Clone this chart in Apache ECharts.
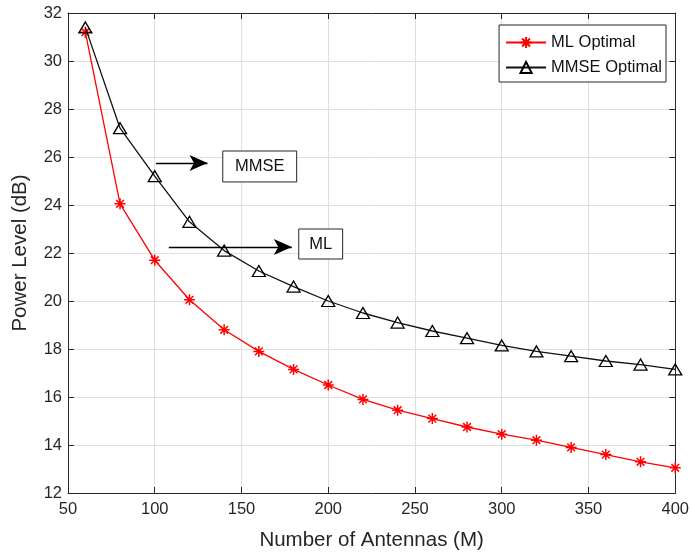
<!DOCTYPE html>
<html>
<head>
<meta charset="utf-8">
<script src="https://cdn.jsdelivr.net/npm/echarts@6/dist/echarts.min.js"></script>
<style>html,body{margin:0;padding:0;background:#fff}#c{width:692px;height:559px}</style>
</head>
<body>
<div id="c"></div>
<script>
const antennas = [60, 80, 100, 120, 140, 160, 180, 200, 220, 240, 260, 280, 300, 320, 340, 360, 380, 400];
const mlOptimal = [31.2, 24.05, 21.7, 20.05, 18.8, 17.9, 17.15, 16.5, 15.9, 15.45, 15.1, 14.75, 14.45, 14.2, 13.9, 13.6, 13.3, 13.05];
const mmseOptimal = [31.4, 27.2, 25.2, 23.3, 22.1, 21.25, 20.6, 20.0, 19.5, 19.1, 18.75, 18.45, 18.15, 17.9, 17.7, 17.5, 17.35, 17.15];
const seriesNames = ['ML Optimal', 'MMSE Optimal'];
const xAxisTitle = 'Number of Antennas (M)';
const yAxisTitle = 'Power Level (dB)';
// annotations in data coordinates
const arrowMMSE = [[100.7, 25.75], [130.4, 25.75]];
const arrowML = [[108.1, 22.25], [179, 22.25]];
const boxMMSE = [[139.2, 26.25], [181.8, 24.96]];
const boxML = [[183, 23.0], [208.3, 21.75]];
const boxLabels = ['MMSE', 'ML'];

const FONT = 'Liberation Sans, Arial, Helvetica, sans-serif';
const TXT = '#262626';
const chart = echarts.init(document.getElementById('c'));
const mk = (x, y) => x.map((v, i) => [v, y[i]]);
const axisCommon = {
  axisLine: { show: true, lineStyle: { color: TXT, width: 1 } },
  axisTick: { show: true, inside: true, length: 6, lineStyle: { color: TXT } },
};
chart.setOption({
  animation: false,
  backgroundColor: '#fff',
  grid: { left: 68, right: 16, top: 13, bottom: 66 },
  legend: {
    data: seriesNames,
    orient: 'vertical',
    right: 26, top: 25,
    padding: [9, 4, 6, 6],
    itemWidth: 40, itemHeight: 14, itemGap: 8,
    backgroundColor: '#fff',
    borderColor: TXT, borderWidth: 1, borderRadius: 0,
    textStyle: { fontFamily: FONT, fontSize: 16.5, color: '#111' }
  },
  xAxis: [{
    type: 'value', min: 50, max: 400, interval: 50,
    name: xAxisTitle, nameLocation: 'middle', nameGap: 37,
    nameTextStyle: { fontFamily: FONT, fontSize: 20.5, color: TXT },
    axisLabel: { fontFamily: FONT, fontSize: 16.5, color: TXT, margin: 8 },
    splitLine: { show: true, lineStyle: { color: '#dfdfdf', width: 1 } },
    ...axisCommon
  }, {
    type: 'value', min: 50, max: 400, interval: 50, position: 'top',
    axisLabel: { show: false }, splitLine: { show: false },
    ...axisCommon
  }],
  yAxis: [{
    type: 'value', min: 12, max: 32, interval: 2,
    name: yAxisTitle, nameLocation: 'middle', nameGap: 37,
    nameTextStyle: { fontFamily: FONT, fontSize: 20.5, color: TXT },
    axisLabel: { fontFamily: FONT, fontSize: 16.5, color: TXT, margin: 6 },
    splitLine: { show: true, lineStyle: { color: '#dfdfdf', width: 1 } },
    ...axisCommon
  }, {
    type: 'value', min: 12, max: 32, interval: 2, position: 'right',
    axisLabel: { show: false }, splitLine: { show: false },
    ...axisCommon
  }],
  series: [{
    name: seriesNames[0], type: 'line', data: mk(antennas, mlOptimal),
    symbol: 'path://M0,-1L0,1M-1,0L1,0M-0.7,-0.7L0.7,0.7M-0.7,0.7L0.7,-0.7',
    symbolSize: 11, showAllSymbol: true,
    lineStyle: { color: '#ff0000', width: 1.3 },
    itemStyle: { color: '#ff0000', borderColor: '#ff0000', borderWidth: 1.5 },
    emphasis: { disabled: true }, z: 3
  }, {
    name: seriesNames[1], type: 'line', data: mk(antennas, mmseOptimal),
    symbol: 'triangle', symbolSize: [13, 11], showAllSymbol: true,
    lineStyle: { color: '#111', width: 1.3 },
    itemStyle: { color: 'rgba(255,255,255,0)', borderColor: '#000', borderWidth: 1.3 },
    emphasis: { disabled: true }, z: 4,
    markLine: {
      silent: true, animation: false,
      symbol: ['none', 'arrow'], symbolSize: [12, 18],
      label: { show: false },
      lineStyle: { color: '#000', width: 1.3, type: 'solid' },
      data: [
        [{ coord: arrowMMSE[0] }, { coord: arrowMMSE[1] }],
        [{ coord: arrowML[0] }, { coord: arrowML[1] }]
      ]
    },
    markArea: {
      silent: true,
      itemStyle: { color: '#fff', borderColor: TXT, borderWidth: 1 },
      label: { show: true, position: 'inside', fontFamily: FONT, fontSize: 16.5, color: '#111' },
      data: [
        [{ coord: boxMMSE[0], name: boxLabels[0] }, { coord: boxMMSE[1] }],
        [{ coord: boxML[0], name: boxLabels[1] }, { coord: boxML[1] }]
      ]
    }
  }]
});
</script>
</body>
</html>
